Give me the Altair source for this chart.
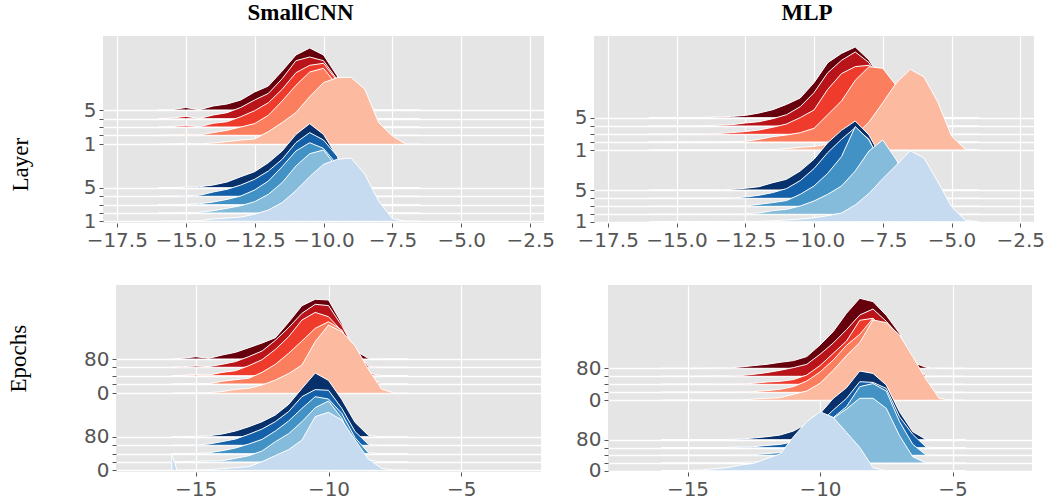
import altair as alt
import pandas as pd

# ---------------- colours ----------------
REDS = ["#fcbba1", "#fb7e5e", "#ef3b2c", "#b81419", "#67000d"]
BLUES = ["#c6dbef", "#85bcdb", "#4292c6", "#1561a9", "#08306b"]

# ---------------- texts / tick labels ----------------
COLUMN_TITLES = ["SmallCNN", "MLP"]
ROW_TITLES = ["Layer", "Epochs"]
LAYER_LABELS = ["1", "", "", "", "5"]
EPOCH_LABELS = ["0", "", "", "", "80"]
TOP_XTICKS = [-17.5, -15, -12.5, -10, -7.5, -5, -2.5]
BOTTOM_XTICKS = [-15, -10, -5]

# ---------------- SmallCNN / Layer ----------------
X_CNN_LAYER = [-16, -15.5, -15, -14.5, -14, -13.5, -13, -12.5, -12, -11.5,
               -11, -10.5, -10, -9.5, -9, -8.5, -8, -7.5, -7, -6.5]
CNN_LAYER_RED = [
    [0, 0.3, 1, 0.3, 1.3, 2.7, 4.3, 5.3, 12.7, 21.7, 31.7, 47.7, 61.7, 66.7, 67, 55, 21.7, 8.3, 0, 0],
    [0, 0.3, 1, 0.3, 2.7, 5, 8.3, 11.7, 20, 34.3, 50, 63.3, 67, 50, 0, 0, 0, 0, 0, 0],
    [0, 0.5, 1.7, 0.3, 3.7, 5.3, 10.3, 16.3, 24.3, 37.7, 54.3, 61.7, 63.7, 46, 0, 0, 0, 0, 0, 0],
    [0, 0.7, 2.3, 0.3, 3.7, 6, 11.3, 18.7, 25.3, 40, 58, 61.7, 58, 39, 0, 0, 0, 0, 0, 0],
    [0, 0.3, 2.5, 0.3, 4, 6, 10, 18, 24, 39, 55, 62, 55, 34, 0, 0, 0, 0, 0, 0],
]
CNN_LAYER_BLUE = [
    [0, 0, 0.3, 0.7, 2.3, 3.3, 4.3, 7, 11.3, 18.7, 30.7, 44.7, 57, 62, 63.3, 47, 20.3, 2.7, 0, 0],
    [0, 0, 0.3, 0.7, 2.3, 4.7, 7.3, 11.3, 18.7, 30.3, 47, 59.3, 63, 45, 0, 0, 0, 0, 0, 0],
    [0, 0, 0.3, 1, 2.7, 5.3, 8.7, 14.7, 23.7, 38, 53.7, 62, 56.3, 40, 0, 0, 0, 0, 0, 0],
    [0, 0, 0.7, 1, 4.3, 7, 11.3, 17, 25.3, 37, 53.7, 63.7, 56.3, 40, 0, 0, 0, 0, 0, 0],
    [0, 0, 0.7, 1, 2.7, 5.7, 11, 16, 25, 36.7, 53.3, 64, 53.3, 31, 0, 0, 0, 0, 0, 0],
]
OFF_CNN_LAYER_RED = [78.7, 87.7, 96, 104.3, 113]
OFF_CNN_LAYER_BLUE = [1.7, 10, 18.3, 26.7, 35.3]

# ---------------- MLP / Layer ----------------
X_MLP_LAYER = [-16, -15.5, -15, -14.5, -14, -13.5, -13, -12.5, -12, -11.5, -11, -10.5,
               -10, -9.5, -9, -8.5, -8, -7.5, -7, -6.5, -6, -5.5, -5, -4.5, -4]
MLP_LAYER_RED = [
    [0, 0, 0, 0, 0, 0, 0, 0, 0.2, 0.3, 1.3, 2.7, 3.7, 6, 9.3, 14.7, 28, 47.3, 67.3, 80.7, 73, 48, 14, 0.7, 0],
    [0.2, 0.2, 0.2, 0.2, 0.2, 0.2, 0.3, 0.7, 2.7, 5.3, 7, 9.3, 13.7, 27.3, 41, 61.7, 75.3, 73.7, 56, 0, 0, 0, 0, 0, 0],
    [0.2, 0.2, 0.2, 0.2, 0.3, 0.7, 1.7, 2.7, 4.3, 7, 10.3, 16.7, 24.3, 45, 60.7, 67.7, 69, 45, 0, 0, 0, 0, 0, 0, 0],
    [0.2, 0.2, 0.2, 0.2, 0.3, 0.7, 1.3, 3, 4.3, 7.3, 11.3, 19.3, 33.3, 53.3, 65.7, 74, 63.3, 40, 0, 0, 0, 0, 0, 0, 0],
    [0.2, 0.2, 0.2, 0.2, 0.3, 0.7, 1.3, 2.3, 4.7, 8, 13.3, 19.7, 35, 55, 64.3, 70.7, 57.7, 35, 0, 0, 0, 0, 0, 0, 0],
]
MLP_LAYER_BLUE = [
    [0, 0, 0, 0, 0, 0, 0, 0.3, 0.3, 1, 1.7, 2.7, 4, 6, 8.7, 16.7, 28.3, 43, 56.7, 71, 63.7, 40.3, 15, 1.3, 0],
    [0, 0, 0, 0, 0, 0, 0, 0.7, 1.3, 3.7, 5, 8.3, 13.3, 20, 28.3, 43.3, 63.3, 74.3, 54.3, 25, 0, 0, 0, 0, 0],
    [0, 0, 0, 0, 0, 0, 0, 0.3, 2, 3.7, 5.7, 12, 20.3, 33, 49.7, 79.7, 66.3, 40, 0, 0, 0, 0, 0, 0, 0],
    [0, 0, 0, 0, 0, 0, 0.3, 1.3, 3, 5.7, 9.7, 17.7, 29.7, 45.7, 59, 70.7, 59, 30, 0, 0, 0, 0, 0, 0, 0],
    [0, 0, 0, 0, 0, 0, 0.7, 1.7, 3.3, 7.3, 10.7, 19, 30.7, 47.3, 59.7, 69, 55, 30, 0, 0, 0, 0, 0, 0, 0],
]
OFF_MLP_LAYER_RED = [73, 81, 88.7, 97, 105.3]
OFF_MLP_LAYER_BLUE = [1.3, 8.7, 16.7, 24.7, 33]

# ---------------- SmallCNN / Epochs ----------------
X_CNN_EPOCH = [-15.9, -15.7, -15.5, -15, -14.5, -14, -13.5, -13, -12.5, -12,
               -11.5, -11, -10.5, -10, -9.5, -9, -8.5, -8, -7.5, -7]
CNN_EPOCH_RED = [
    [0, 0.3, 0.3, 0.3, 0.7, 1.7, 4, 5, 8.3, 13.3, 19.7, 28.3, 51.7, 68.3, 61.7, 47.3, 24, 4.3, 0, 0],
    [0, 0.3, 0.3, 0.7, 0.3, 2.7, 4.3, 5.7, 11.7, 19.7, 30.7, 43, 55.7, 62.3, 54, 30, 8, 0, 0, 0],
    [0, 0.3, 0.3, 1.3, 0.7, 3.3, 5, 10, 16, 26.3, 39, 55.7, 63.3, 59, 44.7, 24, 2.7, 0, 0, 0],
    [0, 0.3, 0.7, 1.3, 0.7, 3, 5.7, 10.7, 16.3, 27, 39.7, 54, 63, 61.7, 41.7, 17.3, 1, 0, 0, 0],
    [0, 0.3, 0.7, 2.3, 0.7, 4, 6.7, 11.3, 16, 21.3, 36.7, 53.3, 59.7, 59, 35.7, 8.3, 0.7, 0, 0, 0],
]
CNN_EPOCH_BLUE = [
    [16.7, 0, 0, 0.3, 0.7, 1.7, 2.7, 3.7, 8.7, 14.7, 20.7, 30.3, 53.7, 58, 50.3, 30.3, 11.3, 2, 0, 0],
    [0, 0, 0.3, 0.7, 1, 1.3, 3.7, 6.3, 11, 20.3, 28.3, 40.3, 54.3, 61, 43.7, 15, 2, 0, 0, 0],
    [0, 0, 0, 0.3, 1, 3, 5.7, 9.7, 14.3, 22.7, 32.7, 45.3, 57, 54.7, 40.3, 16, 1, 0, 0, 0],
    [0, 0, 0, 0.3, 1.3, 3.7, 6.3, 11, 16.3, 23.7, 33.7, 48.7, 55.7, 55, 37, 13.7, 1, 0, 0, 0],
    [0, 0, 0.3, 0.3, 1, 2.7, 5.7, 10, 15, 21.7, 32.3, 48.3, 63.7, 56.3, 37.3, 14.3, 1.3, 0, 0, 0],
]
OFF_CNN_EPOCH_RED = [78.7, 88, 96.3, 104.7, 113]
OFF_CNN_EPOCH_BLUE = [1.7, 10, 18.3, 26.7, 35.3]

# ---------------- MLP / Epochs ----------------
X_MLP_EPOCH = [-16, -15.5, -15, -14.5, -14, -13.5, -13, -12.5, -12, -11.5, -11, -10.5,
               -10, -9.5, -9, -8.5, -8, -7.5, -7, -6.5, -6, -5.5, -5, -4.5]
MLP_EPOCH_RED = [
    [0, 0.2, 0.3, 0.3, 0.3, 0.3, 0.3, 1.3, 2, 2.7, 6, 9.3, 17, 30, 44.7, 57.7, 80.3, 77.7, 65.3, 43.7, 21, 2, 0, 0],
    [0.2, 0.2, 0.2, 0.2, 0.2, 0, 0.3, 0.7, 1.7, 3, 5.7, 11.3, 20.3, 32.3, 47, 58, 74, 60, 40, 15, 0, 0, 0, 0],
    [0.2, 0.2, 0.2, 0.2, 0.2, 0, 0.3, 1, 2.3, 3, 4.7, 9.3, 18.7, 31, 43.3, 64, 66, 50, 30, 10, 0, 0, 0, 0],
    [0, 0, 0, 0, 0.3, 0.3, 0.7, 2, 3.7, 6, 8.7, 12, 22, 33.3, 46.7, 61.3, 67.3, 55, 40, 15, 0, 0, 0, 0],
    [0, 0, 0, 0, 0.3, 0.3, 1.3, 2.7, 4, 6, 7.7, 11.7, 23.3, 36.7, 55, 70, 66.7, 53, 35, 6, 1, 0, 0, 0],
]
MLP_EPOCH_BLUE = [
    [0, 0, 0.3, 0.7, 2, 3, 5.7, 7.3, 12.3, 16.7, 34, 49, 59, 53.3, 38.3, 23.3, 3, 0, 0, 0, 0, 0, 0, 0],
    [0, 0, 0, 0, 0, 0.3, 0.7, 1, 2, 4, 8, 15, 26, 44.7, 54, 64.7, 64.7, 54.7, 27.3, 6.3, 0, 0, 0, 0],
    [0, 0, 0, 0, 0, 0, 0.3, 0.7, 1.7, 2.7, 5, 9, 18, 37.7, 48.7, 68.7, 71.7, 64.3, 33.7, 11, 0.3, 0, 0, 0],
    [0, 0, 0, 0, 0, 0.3, 0.7, 1, 2.3, 3.3, 6, 12, 25, 37.7, 49.3, 66, 65.3, 59.3, 31, 13.3, 0.7, 0, 0, 0],
    [0, 0, 0, 0, 0, 0.3, 0.7, 1.7, 3, 4.7, 8.7, 16, 26, 41.3, 52, 68.7, 66.3, 54.7, 28, 8, 0.3, 0, 0, 0],
]
OFF_MLP_EPOCH_RED = [71.7, 79.7, 87.7, 95.7, 103.7]
OFF_MLP_EPOCH_BLUE = [1.3, 9, 16.7, 24.3, 32.3]

TICK_COLOR = "#555555"
SANS = "DejaVu Sans"
SERIF = "Liberation Serif"
PANEL_H = 187
TICK_FS = 20


def panel(xs, red, blue, off_red, off_blue, labels, xticks, xfmt, width, title=None, title_dx=0):
    rows = []
    for grp, dens, offs in (("red", red, off_red), ("blue", blue, off_blue)):
        for lvl, (hs, b) in enumerate(zip(dens, offs)):
            for x, h in zip(xs, hs):
                rows.append({"grp": grp, "lvl": lvl, "x": x, "top": b + h, "base": b})
    df = pd.DataFrame(rows)

    yvals = list(off_red) + list(off_blue)
    ylabs = list(labels) + list(labels)
    expr = " : ".join(f"datum.value == {v} ? '{l}'" for v, l in zip(yvals, ylabs) if l) + " : ''"

    xaxis = alt.Axis(values=xticks, format=xfmt, title=None, grid=True, gridColor="white",
                     gridWidth=1.2, domain=False, tickColor=TICK_COLOR, tickSize=4,
                     labelColor=TICK_COLOR, labelFont=SANS, labelFontSize=TICK_FS,
                     labelPadding=3, labelFlush=False)
    yaxis = alt.Axis(values=yvals, labelExpr=expr, title=None, grid=True, gridColor="white",
                     gridWidth=1.6, domain=False, tickColor=TICK_COLOR, tickSize=4,
                     labelColor=TICK_COLOR, labelFont=SANS, labelFontSize=TICK_FS,
                     labelPadding=3, labelOverlap=False, labelBound=False)

    xsc = alt.Scale(domain=[-18, -2], nice=False, zero=False)
    ysc = alt.Scale(domain=[0, PANEL_H], nice=False, zero=False)

    base = alt.Chart(df)
    layers = []
    for grp, colors in (("red", REDS), ("blue", BLUES)):
        for lvl in range(4, -1, -1):
            layers.append(
                base.transform_filter((alt.datum.grp == grp) & (alt.datum.lvl == lvl))
                .mark_area(color=colors[lvl], stroke="white", strokeWidth=1, opacity=1,
                           interpolate="linear")
                .encode(x=alt.X("x:Q", scale=xsc, axis=xaxis),
                        y=alt.Y("top:Q", scale=ysc, axis=yaxis),
                        y2="base:Q")
            )
    ch = alt.layer(*layers).properties(width=width, height=PANEL_H)
    if title:
        ch = ch.properties(title=alt.TitleParams(title, font=SERIF, fontSize=23, fontWeight="bold",
                                                 color="black", anchor="middle", frame="group",
                                                 dx=title_dx, offset=-7, baseline="alphabetic"))
    return ch


def row_label(text, width, x, y):
    return (
        alt.Chart(pd.DataFrame({"label": [text]}))
        .mark_text(angle=270, font=SERIF, fontSize=23, color="black",
                   align="center", baseline="middle")
        .encode(x=alt.value(x), y=alt.value(y), text="label:N")
        .properties(width=width, height=PANEL_H,
                    view=alt.ViewBackground(fill="white", stroke="white"))
    )


tl = panel(X_CNN_LAYER, CNN_LAYER_RED, CNN_LAYER_BLUE, OFF_CNN_LAYER_RED, OFF_CNN_LAYER_BLUE,
           LAYER_LABELS, TOP_XTICKS, ".1f", 441, title=COLUMN_TITLES[0], title_dx=-23)
tr = panel(X_MLP_LAYER, MLP_LAYER_RED, MLP_LAYER_BLUE, OFF_MLP_LAYER_RED, OFF_MLP_LAYER_BLUE,
           LAYER_LABELS, TOP_XTICKS, ".1f", 440, title=COLUMN_TITLES[1], title_dx=-7)
bl = panel(X_CNN_EPOCH, CNN_EPOCH_RED, CNN_EPOCH_BLUE, OFF_CNN_EPOCH_RED, OFF_CNN_EPOCH_BLUE,
           EPOCH_LABELS, BOTTOM_XTICKS, "d", 425)
br = panel(X_MLP_EPOCH, MLP_EPOCH_RED, MLP_EPOCH_BLUE, OFF_MLP_EPOCH_RED, OFF_MLP_EPOCH_BLUE,
           EPOCH_LABELS, BOTTOM_XTICKS, "d", 424)

top = alt.hconcat(row_label(ROW_TITLES[0], 51.5, 20, 128.7), tl, tr, spacing=50, bounds="flush")
bottom = alt.hconcat(row_label(ROW_TITLES[1], 47.5, 18, 73.7), bl, br, spacing=67, bounds="flush")

chart = (
    alt.concat(top, bottom, columns=1, spacing=34)
    .properties(padding={"left": 0, "top": 2, "right": 0, "bottom": 0}, background="white")
    .configure_view(fill="#E5E5E5", stroke=None)
)

chart.save("out.html", embed_options={"renderer": "svg", "actions": False})
